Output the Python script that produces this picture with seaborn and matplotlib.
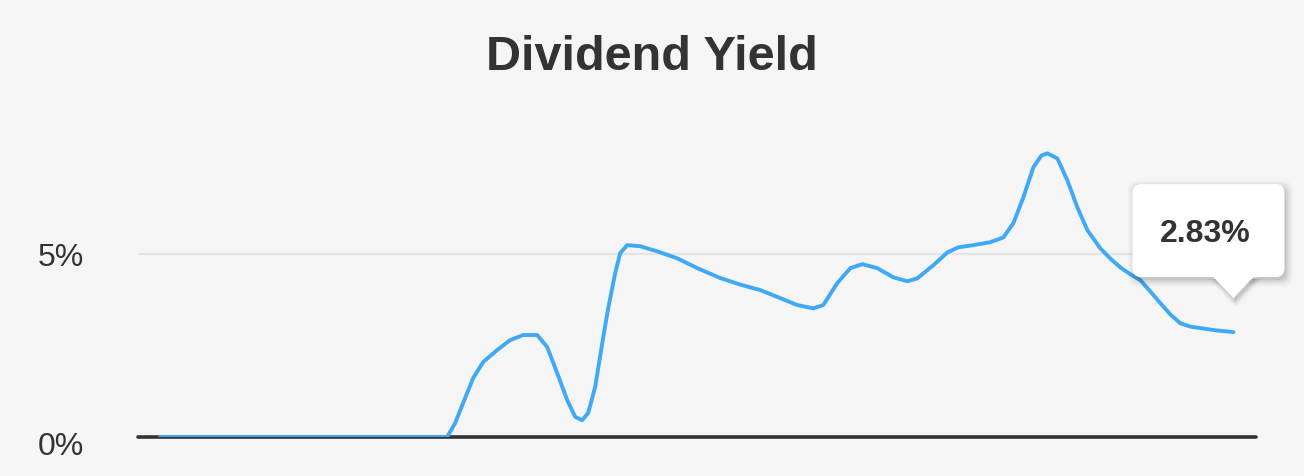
import matplotlib
matplotlib.use("Agg")
import pandas as pd
import matplotlib.pyplot as plt
import matplotlib.transforms as mtransforms
import seaborn as sns
from matplotlib.patches import FancyBboxPatch, Polygon

# Dividend yield (%), position along the time axis (0..100)
position = [0, 13.05, 26.75, 27.49, 28.24, 29.17, 30.10, 31.41, 32.62, 33.83, 35.14, 36.07,
            37.00, 37.93, 38.68, 39.33, 39.89, 40.54, 41.29, 41.75, 42.40, 42.87, 43.52,
            44.73, 46.32, 48.18, 50.05, 52.19, 54.05, 55.92, 57.78, 59.37, 60.86, 61.79,
            63.09, 64.31, 65.42, 66.82, 68.31, 69.62, 70.55, 72.04, 73.35, 74.37, 75.77,
            77.35, 78.56, 79.50, 80.43, 81.36, 82.10, 82.67, 83.60, 84.53, 85.46, 86.39,
            87.60, 88.54, 89.47, 90.40, 91.33, 92.26, 93.20, 94.13, 95.06, 95.99, 96.92,
            98.32, 100.0]
yield_pct = [0.0, 0.0, 0.0, 0.38, 0.93, 1.61, 2.05, 2.38, 2.65, 2.79, 2.79, 2.46,
             1.75, 1.01, 0.55, 0.46, 0.66, 1.37, 2.73, 3.52, 4.48, 5.03, 5.25,
             5.22, 5.08, 4.89, 4.62, 4.35, 4.17, 4.02, 3.80, 3.61, 3.52, 3.61,
             4.21, 4.62, 4.73, 4.62, 4.37, 4.26, 4.34, 4.70, 5.05, 5.19, 5.25,
             5.33, 5.46, 5.85, 6.56, 7.38, 7.70, 7.76, 7.62, 7.02, 6.28, 5.66,
             5.16, 4.88, 4.64, 4.45, 4.29, 3.98, 3.66, 3.35, 3.11, 3.02, 2.98,
             2.92, 2.87]
ytick_values = [0, 5]
ytick_labels = ["0%", "5%"]
last_label = "2.83%"

df = pd.DataFrame({"t": position, "yield": yield_pct})

sns.set_theme(style="white")
plt.rcParams["font.family"] = ["Liberation Sans", "DejaVu Sans"]

bg = "#f5f5f5"
W, H = 1304, 476
fig = plt.figure(figsize=(W / 100, H / 100), dpi=100, facecolor=bg)
ax = fig.add_axes([138 / W, 39 / H, (1256 - 138) / W, (437 - 130) / H])
ax.set_facecolor(bg)

ax.axhline(5, color="#e4e4e4", lw=1.6, zorder=0)
ax.axhline(0, color="#333333", lw=2.6, zorder=1, clip_on=False)
sns.lineplot(data=df, x="t", y="yield", ax=ax, color="#3fa9f5", linewidth=2.8, zorder=3)
for ln in ax.get_lines():
    ln.set_solid_joinstyle("round")
    ln.set_solid_capstyle("round")

ax.set_xlim(-2.05, 102.1)
ax.set_ylim(0, 8.4)
ax.set_yticks(ytick_values)
ax.set_yticklabels(ytick_labels)
ax.set_xticks([])
ax.set_xlabel("")
ax.set_ylabel("")
ax.tick_params(axis="y", length=0, pad=39, labelsize=23, labelcolor="#333333")
sns.despine(ax=ax, left=True, bottom=True)
# the 0% label sits a little below the baseline
lab0 = ax.yaxis.get_major_ticks()[0].label1
lab0.set_transform(lab0.get_transform() + mtransforms.ScaledTranslation(0, -5 / 72, fig.dpi_scale_trans))

fig.text(0.5, 1 - 70 / H, "Dividend Yield", ha="center", va="baseline",
         fontsize=35, fontweight="bold", color="#333333")

# tooltip pointing at the last value
fig.canvas.draw()
px, py = ax.transData.transform((position[-1], yield_pct[-1]))
tx, ty = px, py + 34
box_x0, box_y0, box_w, box_h = tx - 101, ty + 21, 152, 93


def tooltip_shapes(dx, dy, grow, color, alpha, z):
    b = FancyBboxPatch((box_x0 + dx - grow, box_y0 + dy - grow), box_w + 2 * grow, box_h + 2 * grow,
                       boxstyle="round,pad=0,rounding_size=9", transform=None,
                       fc=color, ec="none", alpha=alpha, zorder=z)
    t = Polygon([(tx - 21 - grow + dx, box_y0 + dy + 1), (tx + 21 + grow + dx, box_y0 + dy + 1),
                 (tx + dx, ty + dy - grow)], closed=True, transform=None,
                fc=color, ec="none", alpha=alpha, zorder=z)
    fig.patches.extend([b, t])


for g, a in [(6, 0.03), (4, 0.04), (2, 0.06), (0, 0.08)]:
    tooltip_shapes(2, -3, g, "black", a, 5)
tooltip_shapes(0, 0, 0, "white", 1.0, 6)

fig.text(tx - 28, ty + 64, last_label, transform=None, ha="center", va="center",
         fontsize=23, fontweight="bold", color="#333333", zorder=7)

fig.savefig("out.png", dpi=100, facecolor=bg)
